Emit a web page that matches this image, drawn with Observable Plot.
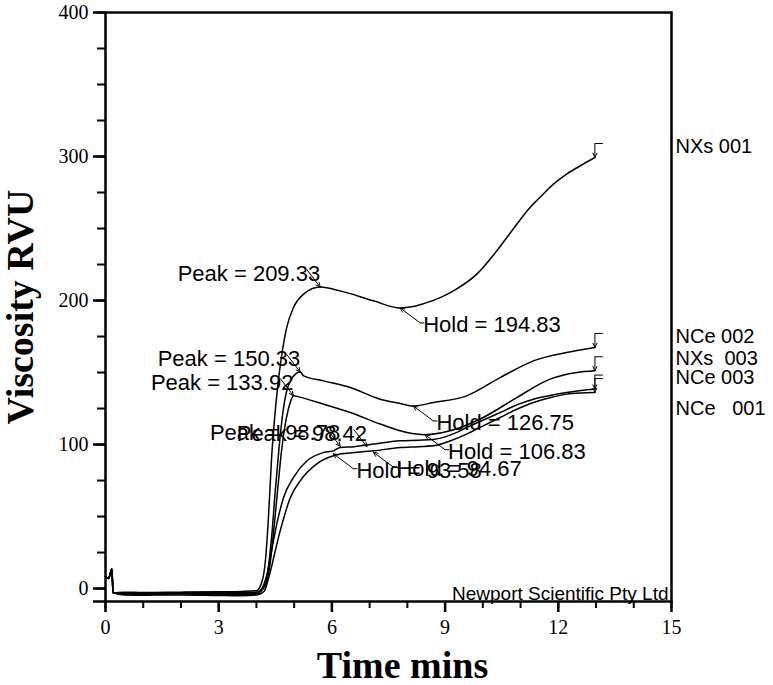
<!DOCTYPE html>
<html><head><meta charset="utf-8">
<script src="https://cdn.jsdelivr.net/npm/d3@7"></script>
<script src="https://cdn.jsdelivr.net/npm/@observablehq/plot@0.6"></script>
<style>
html,body{margin:0;padding:0;background:#fff;}
svg text{white-space:pre;}
</style></head><body><div id="chart"></div>
<script>
// ---- data ----
const seriesNames = ["NXs 001", "NCe 002", "NXs  003", "NCe 003", "NCe   001"];
const labelValues = [307, 175, 160, 146.5, 125];

const nxs001Time = [0, 0.08, 0.17, 0.2, 0.5, 1, 2, 3, 3.6, 4.0, 4.15, 4.24, 4.32, 4.40, 4.48, 4.57, 4.67, 4.8, 4.98, 5.25, 5.69, 6.22, 7.1, 7.81, 8.15, 8.45, 8.87, 9.22, 9.84, 10.37, 10.9, 11.25, 11.51, 11.87, 12.22, 12.66, 12.97];
const nxs001Visc = [8.5, 7, 13.5, -3, -2.5, -2.8, -2.5, -2.3, -2, -1.5, 5, 20, 50, 90, 118, 142, 162, 181, 195, 204.4, 209.33, 206.7, 199.8, 194.83, 195.8, 198, 202, 206.7, 218.3, 234.5, 253, 264.6, 271.5, 280.8, 287.8, 294.7, 299.3];

const nce002Time = [0, 0.08, 0.17, 0.2, 0.5, 1, 2, 3, 3.6, 4.0, 4.2, 4.3, 4.4, 4.5, 4.6, 4.7, 4.8, 4.92, 5.05, 5.16, 5.25, 5.78, 6.49, 7.28, 7.81, 8.16, 8.69, 9.57, 10.46, 11.34, 12.22, 12.97];
const nce002Visc = [8.5, 7, 13.5, -3, -3, -3.2, -3, -2.8, -2.6, -2.5, 2, 12, 35, 68, 98, 122, 137, 145, 149.3, 150.33, 147.7, 144.2, 139.6, 131.5, 128.5, 126.75, 129.2, 133.8, 146.5, 158.1, 163.9, 167.4];

const nxs003Time = [0, 0.08, 0.17, 0.2, 0.5, 1, 2, 3, 3.6, 4.0, 4.25, 4.35, 4.45, 4.55, 4.65, 4.75, 4.85, 4.92, 4.98, 5.12, 5.78, 6.49, 7.28, 7.99, 8.47, 9.13, 10.01, 10.9, 11.78, 12.49, 12.97];
const nxs003Visc = [8.5, 7, 13.5, -3, -3.5, -3.6, -3.3, -3.2, -3.4, -3.5, 3, 15, 38, 65, 92, 112, 125, 131, 133.92, 133.1, 128, 122.2, 114.2, 108.3, 106.83, 109.5, 118.8, 132.6, 145.4, 150, 151.2];

const nce003Time = [0, 0.08, 0.17, 0.2, 0.5, 1, 2, 3, 3.6, 4.0, 4.15, 4.28, 4.45, 4.54, 4.72, 4.98, 5.34, 5.77, 6.04, 6.22, 6.6, 7.1, 7.81, 8.3, 8.69, 9.13, 9.57, 10.01, 10.46, 10.9, 11.34, 11.78, 12.22, 12.6, 12.97];
const nce003Visc = [8.5, 7, 13.5, -3, -4, -4, -3.8, -4.2, -4.3, -4, 0, 10, 33, 44.9, 63.2, 77.1, 88.7, 94.4, 95.6, 98, 98.5, 100.3, 102.6, 103, 103.5, 106.5, 111.8, 117, 122.2, 127.5, 131.5, 134, 136.1, 137.5, 138.5];

const nce001Time = [0, 0.08, 0.17, 0.2, 0.5, 1, 2, 3, 3.6, 4.0, 4.2, 4.33, 4.48, 4.58, 4.68, 4.9, 5.16, 5.6, 6.04, 6.22, 6.6, 7.1, 7.81, 8.3, 8.69, 9.13, 9.57, 10.01, 10.46, 10.9, 11.34, 11.78, 12.22, 12.6, 12.97];
const nce001Visc = [8.5, 7, 13.5, -3, -4.5, -4.6, -4.4, -4.8, -5, -4.5, -2, 8, 24, 35, 44.9, 63.2, 74.8, 86.6, 92.2, 93.5, 94.4, 95.6, 97.9, 98.5, 99.1, 102.5, 107.2, 113, 118.8, 124.5, 129.2, 132.5, 135, 135.8, 136.1];

const annotLabels = ["Peak = 209.33", "Hold = 194.83", "Peak = 150.33", "Hold = 126.75", "Peak = 133.92", "Hold = 106.83", "Peak = 98.78", "Peak = 98.42", "Hold = 93.58", "Hold = 94.67"];
const annotKinds  = ["peak", "hold", "peak", "hold", "peak", "hold", "peak", "peak", "hold", "hold"];
const annotTime   = [5.69, 7.81, 5.16, 8.16, 4.98, 8.47, 6.22, 6.93, 6.04, 7.10];
const annotVisc   = [209.33, 194.83, 150.33, 126.75, 133.92, 106.83, 98.78, 98.42, 93.58, 94.67];

const xMajorTicks = [0, 3, 6, 9, 12, 15];
const xMinorTicks = [0, 1, 2, 3, 4, 5, 6, 7, 8, 9, 10, 11, 12, 13, 14, 15];
const yMajorTicks = [0, 100, 200, 300, 400];
const yMinorTicks = [0, 25, 50, 75, 100, 125, 150, 175, 200, 225, 250, 275, 300, 325, 350, 375, 400];
const xDomain = [0, 15];
const yDomain = [-9, 400];

// ---- build ----
const W = 773, H = 685, mL = 105, mR = 102, mT = 12, mB = 84;
const kx = (xDomain[1] - xDomain[0]) / (W - mL - mR);
const ky = (yDomain[1] - yDomain[0]) / (H - mT - mB);

const times = [nxs001Time, nce002Time, nxs003Time, nce003Time, nce001Time];
const viscs = [nxs001Visc, nce002Visc, nxs003Visc, nce003Visc, nce001Visc];
const rows = [];
const ends = [];
seriesNames.forEach((s, i) => {
  times[i].forEach((t, j) => rows.push({series: s, t, v: viscs[i][j]}));
  const n = times[i].length - 1;
  ends.push({series: s, t: times[i][n], v: viscs[i][n], lv: labelValues[i]});
});
const annots = annotLabels.map((l, i) => ({label: l, kind: annotKinds[i], t: annotTime[i], v: annotVisc[i]}));
const peaks = annots.filter(d => d.kind === "peak");
const holds = annots.filter(d => d.kind === "hold");

const sans = "Liberation Sans, Arial, Helvetica, sans-serif";
const serif = "Liberation Serif, Times New Roman, serif";

const chart = Plot.plot({
  width: W, height: H,
  marginLeft: mL, marginRight: mR, marginTop: mT, marginBottom: mB,
  x: {domain: xDomain},
  y: {domain: yDomain},
  style: {background: "#fff", color: "#000", overflow: "visible"},
  marks: [
    Plot.axisX({ticks: xMinorTicks, tickSize: 7, strokeWidth: 2, text: null, label: null}),
    Plot.axisX({ticks: xMajorTicks, tickSize: 11, tickPadding: 7, strokeWidth: 2.5, fontSize: 20, fontFamily: serif, label: null}),
    Plot.axisY({ticks: yMinorTicks, tickSize: 8, strokeWidth: 2, text: null, label: null}),
    Plot.axisY({ticks: [yDomain[0]], tickSize: 12, strokeWidth: 2.5, text: null, label: null}),
    Plot.axisY({ticks: yMajorTicks, tickSize: 12, tickPadding: 5, strokeWidth: 2.5, fontSize: 20, fontFamily: serif, label: null}),
    Plot.frame({stroke: "#000", strokeWidth: 2.5}),
    Plot.line(rows, {x: "t", y: "v", z: "series", stroke: "#000", strokeWidth: 1.5, curve: "monotone-x"}),
    // end markers
    Plot.arrow(ends, {x1: "t", x2: "t", y1: d => d.v + 14 * ky, y2: "v", stroke: "#000", strokeWidth: 1, headLength: 7, headAngle: 50}),
    Plot.link(ends, {x1: "t", x2: d => d.t + 8 * kx, y1: d => d.v + 14 * ky, y2: d => d.v + 14 * ky, stroke: "#000", strokeWidth: 1}),
    // series labels
    Plot.text(ends, {x: xDomain[1], y: "lv", text: "series", dx: 4, textAnchor: "start", fontSize: 20, fontFamily: sans, fill: "#000"}),
    // peak annotations
    Plot.arrow(peaks, {x1: d => d.t - 13 * kx, y1: d => d.v + 17 * ky, x2: "t", y2: "v", stroke: "#000", strokeWidth: 1, headLength: 7, headAngle: 50}),
    Plot.text(peaks, {x: "t", y: "v", text: "label", dy: -13, textAnchor: "end", fontSize: 22, fontFamily: sans, fill: "#000"}),
    // hold annotations
    Plot.arrow(holds, {x1: d => d.t + 20 * kx, y1: d => d.v - 15 * ky, x2: "t", y2: "v", stroke: "#000", strokeWidth: 1, headLength: 7, headAngle: 50}),
    Plot.link(holds, {x1: d => d.t + 20 * kx, x2: d => d.t + 24 * kx, y1: d => d.v - 15 * ky, y2: d => d.v - 15 * ky, stroke: "#000", strokeWidth: 1}),
    Plot.text(holds, {x: "t", y: "v", text: "label", dx: 23, dy: 17, textAnchor: "start", fontSize: 22, fontFamily: sans, fill: "#000"}),
    // credit
    Plot.text(["Newport Scientific Pty Ltd"], {frameAnchor: "bottom-right", dx: -3, dy: -2, lineAnchor: "bottom", textAnchor: "end", fontSize: 19, fontFamily: sans, fill: "#000"}),
    // axis titles
    Plot.text(["Time mins"], {frameAnchor: "bottom", dx: 14, dy: 76, lineAnchor: "bottom", textAnchor: "middle", fontSize: 38, fontWeight: "bold", fontFamily: serif, fill: "#000"}),
    Plot.text(["Viscosity RVU"], {frameAnchor: "left", dx: -73, rotate: -90, lineAnchor: "bottom", textAnchor: "middle", fontSize: 38, fontWeight: "bold", fontFamily: serif, fill: "#000"})
  ]
});
document.getElementById("chart").appendChild(chart);
</script></body></html>
